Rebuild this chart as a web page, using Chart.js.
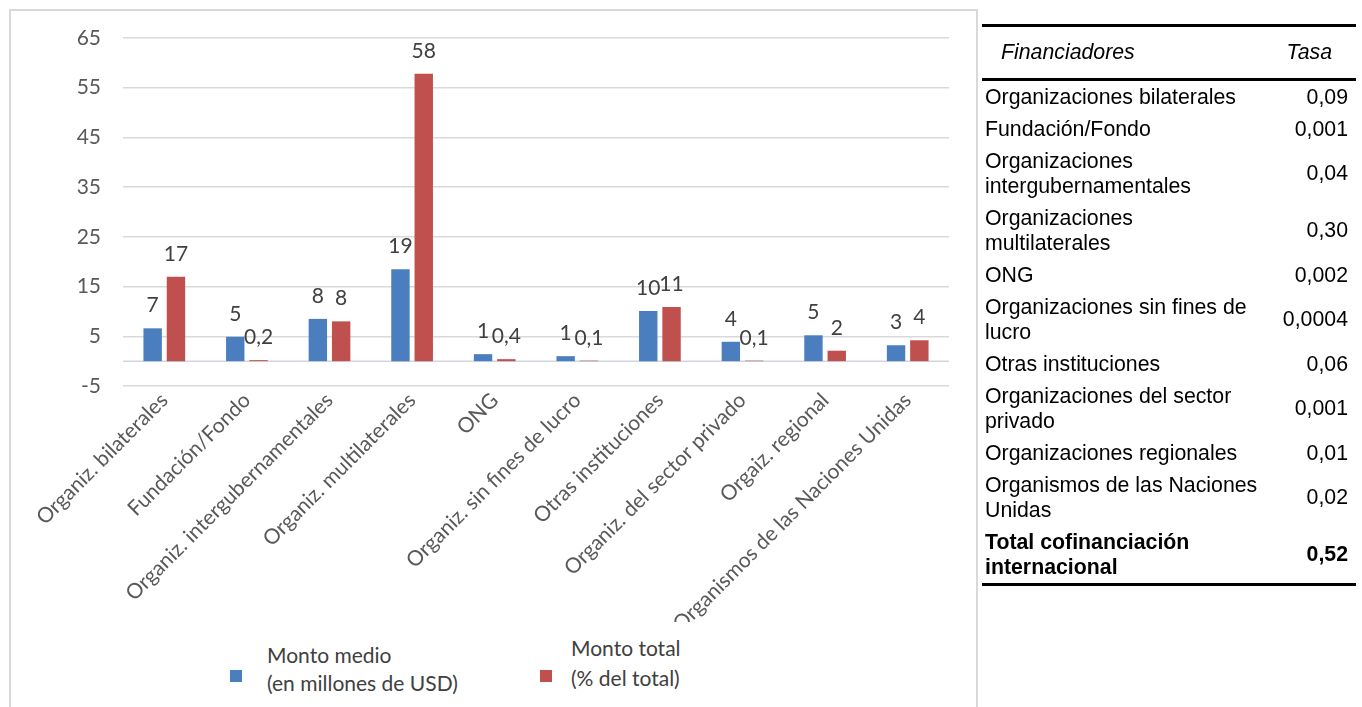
<!DOCTYPE html>
<html lang="es">
<head>
<meta charset="utf-8">
<title>Cofinanciación internacional</title>
<script src="https://cdn.jsdelivr.net/npm/chart.js@4.4.1/dist/chart.umd.min.js"></script>
<style>
    html, body { margin: 0; padding: 0; background: #fff; }
    body { width: 1362px; height: 707px; position: relative; overflow: hidden; font-family: Lato, sans-serif; }
    #frame { position: absolute; left: 9px; top: 9px; width: 969px; height: 720px; border: 2px solid #d9d9d9; box-sizing: border-box; }
    #chartBox { position: absolute; left: 0; top: 0; width: 985px; height: 707px; }
    #legend { position: absolute; left: 215px; top: 622px; width: 490px; height: 82px; background: #fff; }
    .swatch { position: absolute; width: 12px; height: 12px; }
    .ltext { position: absolute; font-size: 21px; color: #404040; white-space: nowrap; }
    #tabla { position: absolute; left: 982px; top: 24px; width: 374px; border-collapse: collapse;
             font-family: "Liberation Sans", Arial, sans-serif; font-size: 21.3px; color: #000; }
    #tabla th { font-weight: normal; font-style: italic; height: 51px; padding: 0; border-top: 3px solid #000; border-bottom: 3px solid #000; }
    #tabla td { line-height: 25px; padding: 3.5px 0; vertical-align: middle; }
    #tabla td.n { text-align: left; padding-left: 3px; width: 276px; }
    #tabla td.v { text-align: right; padding-right: 8px; }
    #tabla tr.total td { font-weight: bold; border-bottom: 3px solid #000; }
</style>
</head>
<body>
<div id="frame"></div>
<div id="chartBox"><canvas id="grafico"></canvas></div>
<div id="legend"></div>
<table id="tabla"></table>

<script>
// Chart data
const categorias = [
    'Organiz. bilaterales', 'Fundación/Fondo', 'Organiz. intergubernamentales',
    'Organiz. multilaterales', 'ONG', 'Organiz. sin fines de lucro',
    'Otras instituciones', 'Organiz. del sector privado', 'Orgaiz. regional',
    'Organismos de las Naciones Unidas'
];
const montoMedio = [6.6, 4.9, 8.5, 18.5, 1.4, 1.0, 10.1, 3.9, 5.2, 3.2];
const montoMedioEtiquetas = ['7', '5', '8', '19', '1', '1', '10', '4', '5', '3'];
const montoTotal = [17.0, 0.2, 8.0, 57.8, 0.4, 0.1, 10.9, 0.1, 2.1, 4.2];
const montoTotalEtiquetas = ['17', '0,2', '8', '58', '0,4', '0,1', '11', '0,1', '2', '4'];
const yMin = -5;
const yMax = 65;
const yPaso = 10;

// Table data
const financiadores = [
    'Organizaciones bilaterales', 'Fundación/Fondo', 'Organizaciones intergubernamentales',
    'Organizaciones multilaterales', 'ONG', 'Organizaciones sin fines de lucro',
    'Otras instituciones', 'Organizaciones del sector privado', 'Organizaciones regionales',
    'Organismos de las Naciones Unidas'
];
const tasas = ['0,09', '0,001', '0,04', '0,30', '0,002', '0,0004', '0,06', '0,001', '0,01', '0,02'];
const totalEtiqueta = 'Total cofinanciación internacional';
const totalTasa = '0,52';

// value labels above every bar
const etiquetasBarras = {
    id: 'etiquetasBarras',
    afterDatasetsDraw(chart) {
        const ctx = chart.ctx;
        ctx.save();
        ctx.font = '21px Lato';
        ctx.fillStyle = '#404040';
        ctx.textAlign = 'center';
        ctx.textBaseline = 'alphabetic';
        chart.data.datasets.forEach((ds, i) => {
            chart.getDatasetMeta(i).data.forEach((bar, j) => {
                ctx.fillText(ds.etiquetas[j], bar.x, bar.y - 16);
            });
        });
        ctx.restore();
    }
};

// horizontal axis line at zero
const lineaCero = {
    id: 'lineaCero',
    beforeDatasetsDraw(chart) {
        const y = chart.scales.y.getPixelForValue(0);
        const area = chart.chartArea;
        const ctx = chart.ctx;
        ctx.save();
        ctx.strokeStyle = '#d0d5de';
        ctx.lineWidth = 1.5;
        ctx.beginPath();
        ctx.moveTo(area.left, y);
        ctx.lineTo(area.right, y);
        ctx.stroke();
        ctx.restore();
    }
};

const chart = new Chart(document.getElementById('grafico'), {
    type: 'bar',
    data: {
        labels: categorias,
        datasets: [{
            label: ['Monto medio', '(en millones de USD)'],
            data: montoMedio,
            etiquetas: montoMedioEtiquetas,
            backgroundColor: '#4a7ebf'
        }, {
            label: ['Monto total', '(% del total)'],
            data: montoTotal,
            etiquetas: montoTotalEtiquetas,
            backgroundColor: '#c0504d'
        }]
    },
    options: {
        responsive: true,
        maintainAspectRatio: false,
        animation: false,
        categoryPercentage: 0.564,
        barPercentage: 0.79,
        layout: {
            autoPadding: false,
            padding: { top: 38, right: 36, bottom: 0, left: 0 }
        },
        plugins: {
            legend: { display: false },
            tooltip: { enabled: false }
        },
        scales: {
            x: {
                grid: { display: false, drawTicks: false },
                border: { display: false },
                ticks: {
                    autoSkip: false,
                    minRotation: 45,
                    maxRotation: 45,
                    padding: 2,
                    color: '#595959',
                    font: { family: 'Lato', size: 21 }
                },
                afterFit(scale) { scale.height = 707 - 386; }
            },
            y: {
                min: yMin,
                max: yMax,
                grid: { color: '#d9d9d9', lineWidth: 1.5, drawTicks: false },
                border: { display: false },
                ticks: {
                    stepSize: yPaso,
                    padding: 22,
                    color: '#595959',
                    font: { family: 'Lato', size: 21 }
                },
                afterFit(scale) { scale.width = 123; }
            }
        }
    },
    plugins: [lineaCero, etiquetasBarras]
});

// legend built from the datasets
const posLeyenda = [
    { sq: [15, 48], txt: [52, 19], lh: 28 },
    { sq: [325, 48], txt: [356, 11], lh: 30 }
];
const leyenda = document.getElementById('legend');
chart.data.datasets.forEach((ds, i) => {
    const p = posLeyenda[i];
    const sw = document.createElement('div');
    sw.className = 'swatch';
    sw.style.left = p.sq[0] + 'px';
    sw.style.top = p.sq[1] + 'px';
    sw.style.background = ds.backgroundColor;
    leyenda.appendChild(sw);
    const t = document.createElement('div');
    t.className = 'ltext';
    t.style.left = p.txt[0] + 'px';
    t.style.top = p.txt[1] + 'px';
    t.style.lineHeight = p.lh + 'px';
    t.innerHTML = ds.label.join('<br>');
    leyenda.appendChild(t);
});

// side table
const tabla = document.getElementById('tabla');
let html = '<tr><th style="text-align:left;padding-left:19px">Financiadores</th>' +
           '<th style="text-align:right;padding-right:24px">Tasa</th></tr>';
financiadores.forEach((f, i) => {
    html += '<tr><td class="n">' + f + '</td><td class="v">' + tasas[i] + '</td></tr>';
});
html += '<tr class="total"><td class="n">' + totalEtiqueta + '</td><td class="v">' + totalTasa + '</td></tr>';
tabla.innerHTML = html;
</script>
</body>
</html>
